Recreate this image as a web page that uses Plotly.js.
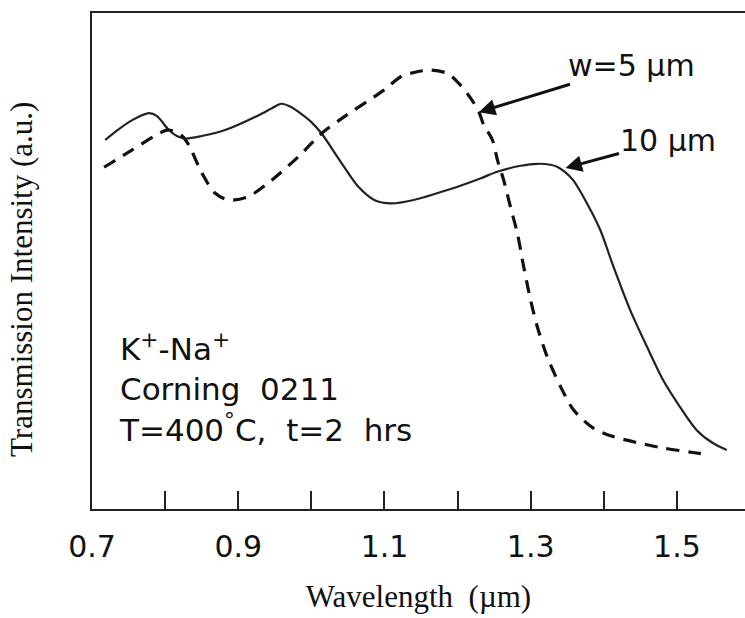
<!DOCTYPE html>
<html>
<head>
<meta charset="utf-8">
<script src="https://cdn.plot.ly/plotly-3.0.1.min.js"></script>
<style>html,body{margin:0;padding:0;background:#fff;}#chart{width:745px;height:618px;}</style>
</head>
<body>
<div id="chart"></div>
<script>
// Wavelength (µm) and transmission intensity (a.u.)
const wl10 = [0.718,0.735,0.755,0.778,0.789,0.805,0.816,0.828,0.850,0.882,0.928,0.946,0.959,0.973,0.982,1.000,1.014,1.041,1.064,1.086,1.109,1.140,1.186,1.232,1.254,1.286,1.309,1.327,1.336,1.347,1.358,1.377,1.395,1.413,1.436,1.459,1.481,1.504,1.527,1.549,1.568];
const int10 = [7.44,7.64,7.84,7.98,7.92,7.64,7.52,7.47,7.52,7.64,7.94,8.08,8.17,8.10,8.01,7.80,7.57,6.98,6.50,6.23,6.16,6.23,6.43,6.67,6.80,6.92,6.96,6.94,6.90,6.79,6.63,6.16,5.63,4.89,4.01,3.27,2.60,2.06,1.59,1.33,1.19];

const wl5 = [0.7165,0.755,0.7914,0.8027,0.8118,0.8232,0.8323,0.8504,0.8681,0.8867,0.914,0.9457,0.9821,1.0138,1.0451,1.0996,1.1227,1.1432,1.1636,1.1864,1.2017,1.218,1.229,1.2358,1.2476,1.2544,1.263,1.2726,1.2817,1.2903,1.2998,1.3089,1.3225,1.3407,1.3584,1.3856,1.4128,1.4451,1.481,1.5218,1.5449];
const int5 = [6.89,7.24,7.57,7.64,7.62,7.52,7.34,6.77,6.37,6.23,6.30,6.63,7.10,7.57,7.91,8.45,8.72,8.81,8.85,8.78,8.58,8.28,8.01,7.74,7.44,7.04,6.63,6.07,5.56,4.89,4.21,3.68,3.07,2.47,2.00,1.63,1.46,1.34,1.23,1.14,1.09];

const tickVals = [0.7,0.9,1.1,1.3,1.5];
const tickText = ["0.7","0.9","1.1","1.3","1.5"];
const minorTickVals = [0.8,1.0,1.2,1.4];

const label5 = "w=5 µm";
const label10 = "10 µm";
const tip5 = [1.229, 8.00];
const tip10 = [1.3475, 6.875];
const infoText = "K<sup>+</sup>-Na<sup>+</sup><br>Corning  0211<br>T=400<sup>°</sup>C,  t=2  hrs";
const yTitle = "Transmission Intensity (a.u.)";
const xTitle = "Wavelength  (µm)";

const ink = "#222";
const sans = "DejaVu Sans, sans-serif";
const serif = "Liberation Serif, Times New Roman, serif";

const traces = [
  {x: wl10, y: int10, type: "scatter", mode: "lines", line: {color: ink, width: 2.2, shape: "spline", smoothing: 0.8}, hoverinfo: "skip"},
  {x: wl5, y: int5, type: "scatter", mode: "lines", line: {color: "#111", width: 3.2, dash: "13px,9px", shape: "spline", smoothing: 0.8}, hoverinfo: "skip"}
];

const layout = {
  width: 745, height: 618,
  margin: {l: 92, r: 0, t: 13, b: 109},
  paper_bgcolor: "#fff", plot_bgcolor: "#fff",
  showlegend: false,
  xaxis: {
    range: [0.7, 1.5 + 68/731],
    showgrid: false, zeroline: false,
    showline: true, mirror: true, linecolor: ink, linewidth: 2.2,
    ticks: "inside", ticklen: 18, tickwidth: 2, tickcolor: ink,
    tickmode: "array", tickvals: tickVals, ticktext: tickText,
    minor: {tickmode: "array", tickvals: minorTickVals, ticks: "inside", ticklen: 18, tickwidth: 2, tickcolor: ink, showgrid: false},
    ticklabelstandoff: 10,
    tickfont: {family: sans, size: 30, color: "#111"},
    title: {text: xTitle, font: {family: serif, size: 31, color: "#111"}, standoff: 22}
  },
  yaxis: {
    range: [0, 10],
    showgrid: false, zeroline: false,
    showline: true, mirror: false, linecolor: ink, linewidth: 2.2,
    ticks: "", showticklabels: false
  },
  annotations: [
    {x: -0.107, y: 0.462, xref: "paper", yref: "paper", text: yTitle, textangle: -90, showarrow: false,
     xanchor: "center", yanchor: "middle", font: {family: serif, size: 31, color: "#111"}},
    {x: tip5[0], y: tip5[1], xref: "x", yref: "y", text: label5, showarrow: true,
     ax: 153, ay: -47, arrowhead: 2, arrowsize: 1.1, arrowwidth: 3, arrowcolor: "#111", standoff: 0,
     font: {family: sans, size: 30, color: "#111"}},
    {x: tip10[0], y: tip10[1], xref: "x", yref: "y", text: label10, showarrow: true,
     ax: 103, ay: -28, arrowhead: 2, arrowsize: 1.1, arrowwidth: 3, arrowcolor: "#111", standoff: 0,
     font: {family: sans, size: 30, color: "#111"}},
    {x: 0.038, y: 0.244, xref: "paper", yref: "paper", text: infoText, showarrow: false,
     xanchor: "left", yanchor: "middle", align: "left",
     font: {family: sans, size: 31, color: "#111"}}
  ]
};

Plotly.newPlot("chart", traces, layout, {staticPlot: true, displayModeBar: false});
</script>
</body>
</html>
